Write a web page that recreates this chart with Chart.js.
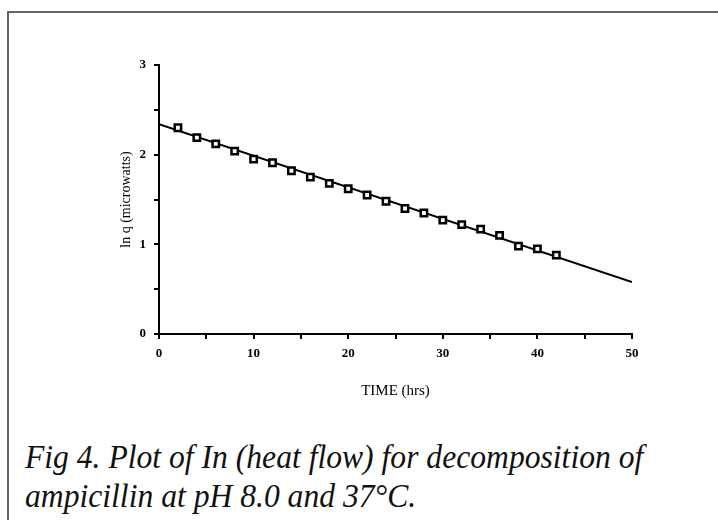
<!DOCTYPE html>
<html>
<head>
<meta charset="utf-8">
<script src="https://cdn.jsdelivr.net/npm/chart.js@4/dist/chart.umd.min.js"></script>
<style>
    html, body {
        margin: 0;
        padding: 0;
        background: #fff;
        width: 718px;
        height: 520px;
        overflow: hidden;
    }
    #frame {
        position: absolute;
        left: 7px;
        top: 11px;
        width: 730px;
        height: 530px;
        border-left: 2px solid #666;
        border-top: 2px solid #666;
    }
    #chartBox {
        position: absolute;
        left: 0;
        top: 0;
        width: 718px;
        height: 404px;
    }
    #caption {
        position: absolute;
        left: 25px;
        top: 437px;
        font-family: "Liberation Serif", "DejaVu Serif", serif;
        font-style: italic;
        font-size: 34px;
        line-height: 39px;
        color: #111;
        white-space: nowrap;
        transform: scaleX(0.93);
        transform-origin: 0 0;
    }
</style>
</head>
<body>
<div id="frame"></div>
<div id="chartBox"><canvas id="heatChart" width="718" height="404"></canvas></div>
<div id="caption">Fig 4. Plot of In (heat flow) for decomposition of<br>ampicillin at pH 8.0 and 37°C.</div>
<script>
const timeHrs = [2, 4, 6, 8, 10, 12, 14, 16, 18, 20, 22, 24, 26, 28, 30, 32, 34, 36, 38, 40, 42];
const lnQ = [2.30, 2.19, 2.12, 2.04, 1.95, 1.91, 1.82, 1.75, 1.68, 1.62, 1.55, 1.48, 1.40, 1.35, 1.27, 1.22, 1.17, 1.10, 0.98, 0.95, 0.88];
const fitTime = [0, 50];
const fitLnQ = [2.34, 0.58];
const xLabels = [0, 10, 20, 30, 40, 50];
const yLabels = [0, 1, 2, 3];

const tickFont = { family: "Liberation Serif", size: 13, weight: "bold" };

const chartCanvas = document.getElementById("heatChart");

new Chart(chartCanvas, {
    type: "scatter",
    data: {
        datasets: [
            {
                label: "fit",
                data: fitTime.map((t, i) => ({ x: t, y: fitLnQ[i] })),
                showLine: true,
                borderColor: "#000",
                borderWidth: 2,
                pointRadius: 0,
                order: 2,
            },
            {
                label: "ln q",
                data: timeHrs.map((t, i) => ({ x: t, y: lnQ[i] })),
                pointStyle: "rect",
                pointRadius: 4.5,
                backgroundColor: "#fff",
                borderColor: "#000",
                borderWidth: 2.5,
                order: 1,
            },
        ],
    },
    options: {
        responsive: false,
        animation: false,
        layout: {
            padding: { left: 114, top: 65, right: 86, bottom: 0 },
        },
        plugins: {
            legend: { display: false },
            tooltip: { enabled: false },
        },
        scales: {
            x: {
                type: "linear",
                min: 0,
                max: 50,
                border: { display: true, color: "#000", width: 2 },
                grid: {
                    drawOnChartArea: false,
                    drawTicks: true,
                    tickLength: 5,
                    color: "#000",
                    lineWidth: 2,
                },
                ticks: {
                    stepSize: 5,
                    autoSkip: false,
                    maxRotation: 0,
                    padding: 7,
                    color: "#000",
                    font: tickFont,
                    callback: (v) => (xLabels.includes(v) ? String(v) : ""),
                },
                title: {
                    display: true,
                    text: "TIME (hrs)",
                    color: "#000",
                    font: { family: "Liberation Serif", size: 15 },
                    padding: 4,
                },
                afterFit: (scale) => {
                    scale.height = 70;
                },
            },
            y: {
                type: "linear",
                min: 0,
                max: 3,
                border: { display: true, color: "#000", width: 2 },
                grid: {
                    drawOnChartArea: false,
                    drawTicks: true,
                    tickLength: 5,
                    color: "#000",
                    lineWidth: 2,
                },
                ticks: {
                    stepSize: 0.5,
                    autoSkip: false,
                    padding: 8,
                    color: "#000",
                    font: tickFont,
                    callback: (v) => (yLabels.includes(v) ? String(v) : ""),
                },
                title: {
                    display: true,
                    text: "ln q (microwatts)",
                    color: "#000",
                    font: { family: "Liberation Serif", size: 14 },
                    padding: 4,
                },
                afterFit: (scale) => {
                    scale.width = 45;
                },
            },
        },
    },
});
</script>
</body>
</html>
